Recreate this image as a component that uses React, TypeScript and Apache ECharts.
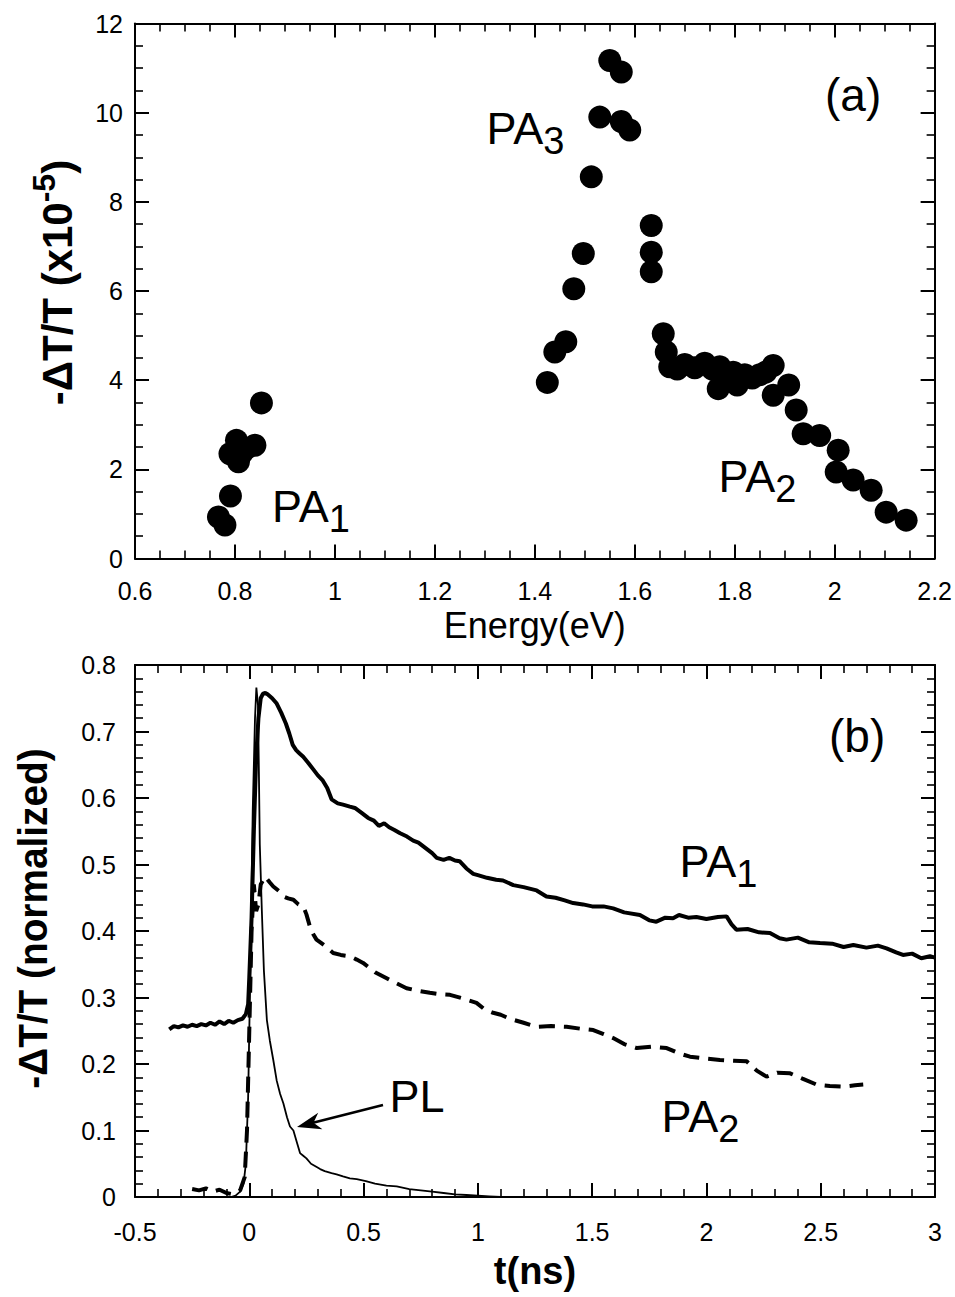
import React, { useEffect, useRef } from "react";
import * as echarts from "echarts";

const FONT = "'Liberation Sans', Arial, Helvetica, sans-serif";

// ---------- Panel (a): -dT/T spectrum (x1e-5) vs photon energy (eV) ----------
const spectrumPA1: number[][] = [
  [0.767, 0.93], [0.78, 0.75], [0.791, 1.4], [0.79, 2.35], [0.803, 2.65],
  [0.807, 2.17], [0.813, 2.35], [0.823, 2.47], [0.84, 2.54], [0.853, 3.49],
];
const spectrumPA3: number[][] = [
  [1.425, 3.95], [1.44, 4.63], [1.462, 4.86], [1.478, 6.05], [1.497, 6.84],
  [1.513, 8.56], [1.53, 9.9], [1.55, 11.17], [1.573, 10.91], [1.573, 9.8],
  [1.59, 9.61], [1.633, 7.47], [1.633, 6.87], [1.633, 6.43],
];
const spectrumPA2: number[][] = [
  [1.657, 5.04], [1.663, 4.63], [1.67, 4.3], [1.685, 4.25], [1.7, 4.35],
  [1.72, 4.28], [1.74, 4.38], [1.755, 4.25], [1.77, 4.3], [1.767, 3.81],
  [1.785, 4.0], [1.797, 4.18], [1.805, 3.89], [1.82, 4.12], [1.835, 4.05],
  [1.85, 4.12], [1.862, 4.18], [1.877, 4.33], [1.877, 3.66], [1.908, 3.89],
  [1.923, 3.33], [1.937, 2.8], [1.97, 2.76], [2.007, 2.43], [2.003, 1.94],
  [2.037, 1.76], [2.073, 1.53], [2.103, 1.04], [2.143, 0.86],
];

// ---------- Panel (b): normalized transients vs delay t (ns) ----------
const pa1Trace: number[][] = [
  [-0.35, 0.252], [-0.33, 0.257], [-0.31, 0.255], [-0.29, 0.258], [-0.27, 0.256],
  [-0.25, 0.259], [-0.23, 0.257], [-0.21, 0.26], [-0.19, 0.258], [-0.17, 0.262],
  [-0.15, 0.259], [-0.13, 0.264], [-0.11, 0.26], [-0.09, 0.265], [-0.07, 0.262],
  [-0.05, 0.266], [-0.03, 0.268], [-0.015, 0.275], [-0.005, 0.29], [0.0, 0.33],
  [0.01, 0.42], [0.02, 0.55], [0.03, 0.66], [0.04, 0.72], [0.05, 0.75],
  [0.06, 0.757], [0.07, 0.758], [0.08, 0.756], [0.1, 0.75], [0.12, 0.742],
  [0.14, 0.728], [0.16, 0.712], [0.175, 0.697], [0.19, 0.68], [0.205, 0.672],
  [0.22, 0.667], [0.236, 0.662], [0.26, 0.652], [0.28, 0.643], [0.3, 0.634],
  [0.32, 0.627], [0.341, 0.615], [0.36, 0.598], [0.387, 0.592], [0.41, 0.59],
  [0.44, 0.587], [0.462, 0.585], [0.49, 0.578], [0.52, 0.57], [0.545, 0.566],
  [0.567, 0.558], [0.59, 0.562], [0.612, 0.556], [0.635, 0.552], [0.66, 0.547],
  [0.69, 0.542], [0.717, 0.536], [0.74, 0.533], [0.77, 0.525], [0.8, 0.517],
  [0.82, 0.51], [0.85, 0.507], [0.875, 0.51], [0.9, 0.506], [0.92, 0.505],
  [0.95, 0.494], [0.98, 0.486], [1.0, 0.484], [1.04, 0.48], [1.08, 0.477],
  [1.11, 0.476], [1.155, 0.469], [1.2, 0.466], [1.257, 0.461], [1.3, 0.452],
  [1.34, 0.45], [1.38, 0.446], [1.417, 0.442], [1.46, 0.44], [1.5, 0.437],
  [1.55, 0.437], [1.592, 0.434], [1.64, 0.428], [1.709, 0.424], [1.75, 0.416],
  [1.781, 0.414], [1.82, 0.42], [1.854, 0.419], [1.88, 0.424], [1.92, 0.42],
  [1.956, 0.421], [2.0, 0.418], [2.05, 0.421], [2.088, 0.422], [2.11, 0.41],
  [2.131, 0.402], [2.18, 0.403], [2.23, 0.398], [2.278, 0.397], [2.32, 0.389],
  [2.35, 0.387], [2.4, 0.39], [2.45, 0.383], [2.497, 0.382], [2.55, 0.381],
  [2.6, 0.376], [2.643, 0.379], [2.7, 0.375], [2.75, 0.378], [2.788, 0.374],
  [2.83, 0.368], [2.86, 0.364], [2.9, 0.366], [2.94, 0.359], [2.978, 0.362],
  [3.0, 0.36],
];
const pa2Trace: number[][] = [
  [-0.25, 0.012], [-0.22, 0.01], [-0.19, 0.013], [-0.16, 0.008], [-0.13, 0.011],
  [-0.1, 0.006], [-0.07, 0.004], [-0.04, 0.01], [-0.02, 0.03], [-0.01, 0.1],
  [0.0, 0.25], [0.01, 0.4], [0.02, 0.47], [0.03, 0.43], [0.04, 0.44],
  [0.05, 0.47], [0.069, 0.482], [0.09, 0.473], [0.105, 0.467], [0.13, 0.46],
  [0.149, 0.452], [0.17, 0.449], [0.193, 0.447], [0.215, 0.44], [0.236, 0.437],
  [0.25, 0.425], [0.265, 0.407], [0.28, 0.395], [0.294, 0.387], [0.33, 0.378],
  [0.367, 0.367], [0.4, 0.364], [0.44, 0.362], [0.47, 0.357], [0.498, 0.352],
  [0.55, 0.338], [0.601, 0.329], [0.64, 0.322], [0.688, 0.314], [0.74, 0.31],
  [0.79, 0.307], [0.83, 0.305], [0.878, 0.304], [0.93, 0.299], [0.994, 0.292],
  [1.03, 0.282], [1.067, 0.277], [1.1, 0.274], [1.14, 0.268], [1.2, 0.262],
  [1.257, 0.256], [1.32, 0.257], [1.388, 0.256], [1.45, 0.253], [1.505, 0.251],
  [1.55, 0.245], [1.592, 0.239], [1.64, 0.23], [1.695, 0.224], [1.76, 0.226],
  [1.826, 0.224], [1.88, 0.216], [1.928, 0.211], [2.0, 0.208], [2.059, 0.206],
  [2.12, 0.205], [2.176, 0.204], [2.22, 0.19], [2.263, 0.181], [2.31, 0.187],
  [2.366, 0.186], [2.42, 0.178], [2.482, 0.169], [2.54, 0.167], [2.599, 0.166],
  [2.65, 0.168], [2.686, 0.169],
];
const plTrace: number[][] = [
  [-0.08, 0.0], [-0.06, 0.002], [-0.04, 0.008], [-0.025, 0.02], [-0.015, 0.05],
  [-0.005, 0.15], [0.005, 0.35], [0.015, 0.58], [0.025, 0.72], [0.031, 0.766],
  [0.038, 0.74], [0.042, 0.64], [0.046, 0.53], [0.055, 0.43], [0.064, 0.34],
  [0.077, 0.266], [0.09, 0.235], [0.105, 0.206], [0.12, 0.175], [0.135, 0.155],
  [0.149, 0.141], [0.165, 0.12], [0.178, 0.106], [0.193, 0.1], [0.21, 0.08],
  [0.222, 0.066], [0.236, 0.062], [0.25, 0.058], [0.27, 0.05], [0.295, 0.045],
  [0.31, 0.042], [0.33, 0.039], [0.36, 0.036], [0.382, 0.034], [0.41, 0.031],
  [0.44, 0.028], [0.47, 0.027], [0.51, 0.024], [0.55, 0.02], [0.6, 0.017],
  [0.645, 0.016], [0.7, 0.012], [0.75, 0.01], [0.8, 0.008], [0.85, 0.006],
  [0.9, 0.004], [0.95, 0.003], [1.0, 0.002], [1.05, 0.001], [1.1, 0.0],
];

// ---------- tick ranges ----------
const energyRange = { min: 0.6, max: 2.2, interval: 0.2, minor: 4 };
const signalRangeA = { min: 0, max: 12, interval: 2, minor: 4 };
const timeRange = { min: -0.5, max: 3, interval: 0.5, minor: 5 };
const signalRangeB = { min: 0, max: 0.8, interval: 0.1, minor: 5 };

function makeAxis(gridIndex: number, range: any, position: string, labels: any, extra: any = {}) {
  return {
    type: "value",
    gridIndex,
    position,
    min: range.min,
    max: range.max,
    interval: range.interval,
    axisLine: { show: true, onZero: false, lineStyle: { color: "#000", width: 2 } },
    axisTick: { show: true, inside: true, length: 14, lineStyle: { color: "#000", width: 2 } },
    minorTick: { show: true, splitNumber: range.minor, length: 8, lineStyle: { color: "#000", width: 1.6 } },
    splitLine: { show: false },
    minorSplitLine: { show: false },
    axisLabel: labels
      ? { show: true, color: "#000", fontSize: 25, fontFamily: FONT, ...labels }
      : { show: false },
    ...extra,
  };
}

function paLabel(main: string, sub: string, x: number, y: number) {
  return {
    type: "text",
    x,
    y,
    z: 100,
    style: {
      text: `{m|${main}}{s|${sub}}`,
      fill: "#000",
      align: "left",
      verticalAlign: "top",
      textAlign: "left",
      textVerticalAlign: "top",
      rich: {
        m: { fontSize: 45, fontFamily: FONT, fill: "#000" },
        s: { fontSize: 38, fontFamily: FONT, fill: "#000", verticalAlign: "bottom", padding: [24, 0, 0, 0] },
      },
    },
  };
}

function plainLabel(text: string, size: number, x: number, y: number) {
  return {
    type: "text",
    x,
    y,
    z: 100,
    style: {
      text,
      fill: "#000",
      fontSize: size,
      fontFamily: FONT,
      align: "left",
      verticalAlign: "top",
      textAlign: "left",
      textVerticalAlign: "top",
    },
  };
}

const dotStyle = { color: "#000", opacity: 1 };

export default function App() {
  const ref = useRef<HTMLDivElement>(null);

  useEffect(() => {
    if (!ref.current) return;
    const chart = echarts.init(ref.current, null, { renderer: "svg" });

    const option: any = {
      animation: false,
      backgroundColor: "#ffffff",
      textStyle: { fontFamily: FONT, color: "#000" },
      grid: [
        { left: 135, top: 23.5, width: 800, height: 535 },
        { left: 135, top: 665, width: 800, height: 532 },
      ],
      xAxis: [
        makeAxis(0, energyRange, "bottom", { margin: 20 }, {
          name: "Energy(eV)",
          nameLocation: "middle",
          nameGap: 49,
          nameTextStyle: { fontSize: 36, fontFamily: FONT, color: "#000" },
        }),
        makeAxis(0, energyRange, "top", null),
        makeAxis(1, timeRange, "bottom", { margin: 22 }, {
          name: "t(ns)",
          nameLocation: "middle",
          nameGap: 55,
          nameTextStyle: { fontSize: 38, fontWeight: "bold", fontFamily: FONT, color: "#000" },
        }),
        makeAxis(1, timeRange, "top", null),
      ],
      yAxis: [
        makeAxis(0, signalRangeA, "left", { margin: 12 }),
        makeAxis(0, signalRangeA, "right", null),
        makeAxis(1, signalRangeB, "left", { margin: 19 }),
        makeAxis(1, signalRangeB, "right", null),
      ],
      series: [
        {
          name: "PA1 spectrum",
          type: "scatter",
          xAxisIndex: 0,
          yAxisIndex: 0,
          symbol: "circle",
          symbolSize: 23,
          itemStyle: dotStyle,
          data: spectrumPA1,
        },
        {
          name: "PA3 spectrum",
          type: "scatter",
          xAxisIndex: 0,
          yAxisIndex: 0,
          symbol: "circle",
          symbolSize: 23,
          itemStyle: dotStyle,
          data: spectrumPA3,
        },
        {
          name: "PA2 spectrum",
          type: "scatter",
          xAxisIndex: 0,
          yAxisIndex: 0,
          symbol: "circle",
          symbolSize: 23,
          itemStyle: dotStyle,
          data: spectrumPA2,
        },
        {
          name: "PA1",
          type: "line",
          xAxisIndex: 2,
          yAxisIndex: 2,
          showSymbol: false,
          lineStyle: { color: "#000", width: 4 },
          data: pa1Trace,
        },
        {
          name: "PA2",
          type: "line",
          xAxisIndex: 2,
          yAxisIndex: 2,
          showSymbol: false,
          lineStyle: { color: "#000", width: 4, type: [16, 9] },
          data: pa2Trace,
        },
        {
          name: "PL",
          type: "line",
          xAxisIndex: 2,
          yAxisIndex: 2,
          showSymbol: false,
          lineStyle: { color: "#000", width: 1.8 },
          data: plTrace,
        },
      ],
      graphic: [
        {
          type: "text",
          x: 57,
          y: 282.5,
          rotation: Math.PI / 2,
          z: 100,
          style: {
            text: "{m|-ΔT/T (x10}{s|-5}{m|)}",
            fill: "#000",
            align: "center",
            verticalAlign: "middle",
            textAlign: "center",
            textVerticalAlign: "middle",
            rich: {
              m: { fontSize: 42, fontWeight: "bold", fontFamily: FONT, fill: "#000" },
              s: { fontSize: 32, fontWeight: "bold", fontFamily: FONT, fill: "#000", verticalAlign: "top", padding: [0, 0, 26, 0] },
            },
          },
        },
        {
          type: "text",
          x: 33,
          y: 918.5,
          rotation: Math.PI / 2,
          scaleX: 0.97,
          z: 100,
          style: {
            text: "-ΔT/T (normalized)",
            fill: "#000",
            fontSize: 40,
            fontWeight: "bold",
            fontFamily: FONT,
            align: "center",
            verticalAlign: "middle",
            textAlign: "center",
            textVerticalAlign: "middle",
          },
        },
        paLabel("PA", "1", 272, 475.5),
        paLabel("PA", "3", 486.5, 97.5),
        paLabel("PA", "2", 718.5, 445.5),
        paLabel("PA", "1", 679.5, 830.5),
        paLabel("PA", "2", 661.5, 1085.5),
        plainLabel("PL", 45, 389.5, 1074),
        plainLabel("(a)", 46, 825, 71.6),
        plainLabel("(b)", 46, 829, 712.6),
        {
          type: "line",
          z: 100,
          shape: { x1: 383, y1: 1105, x2: 313, y2: 1122.8 },
          style: { stroke: "#000", lineWidth: 2.5 },
        },
        {
          type: "polygon",
          z: 100,
          shape: { points: [[297, 1127], [318.2, 1112.8], [313.5, 1122.8], [322.4, 1129.3]] },
          style: { fill: "#000" },
        },
      ],
    };

    chart.setOption(option);
    return () => chart.dispose();
  }, []);

  return (
    <div
      ref={ref}
      style={{ position: "absolute", left: 0, top: 0, width: 955, height: 1297, background: "#fff" }}
    />
  );
}
